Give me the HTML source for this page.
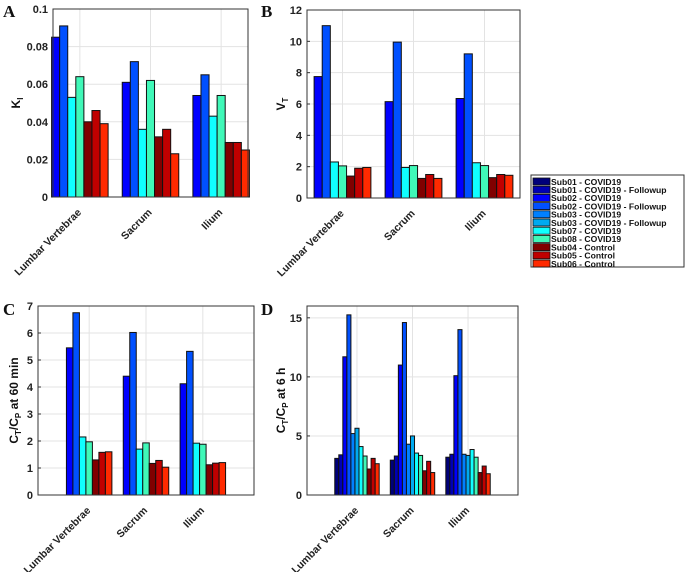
<!DOCTYPE html>
<html><head><meta charset="utf-8"><style>
body{margin:0;background:#fff;width:685px;height:572px;overflow:hidden}
svg{font-family:"Liberation Sans",Arial,sans-serif}
</style></head><body>
<svg id="fig" width="685" height="572" viewBox="0 0 685 572" xmlns="http://www.w3.org/2000/svg"></svg>
<script>
const categories = ["Lumbar Vertebrae","Sacrum","Ilium"];
const seriesNames = ["Sub01 - COVID19","Sub01 - COVID19 - Followup","Sub02 - COVID19","Sub02 - COVID19 - Followup","Sub03 - COVID19","Sub03 - COVID19 - Followup","Sub07 - COVID19","Sub08 - COVID19","Sub04 - Control","Sub05 - Control","Sub06 - Control"];
const seriesColors = ["#00007a","#0000b4","#0000ff","#0050ff","#0080ff","#00aaf0","#10ffff","#40f8b8","#800000","#c00000","#ff2a00"];
const subsetABC = [2,3,6,7,8,9,10];
const valuesA_LV = [0.085,0.091,0.053,0.064,0.040,0.046,0.039];
const valuesA_S = [0.061,0.072,0.036,0.062,0.032,0.036,0.023];
const valuesA_I = [0.054,0.065,0.043,0.054,0.029,0.029,0.025];
const valuesB_LV = [7.75,11.0,2.3,2.05,1.4,1.9,1.95];
const valuesB_S = [6.15,9.95,1.95,2.07,1.25,1.5,1.25];
const valuesB_I = [6.35,9.2,2.25,2.07,1.3,1.5,1.45];
const valuesC_LV = [5.45,6.75,2.15,1.97,1.3,1.58,1.6];
const valuesC_S = [4.4,6.02,1.7,1.93,1.17,1.28,1.03];
const valuesC_I = [4.12,5.32,1.92,1.88,1.12,1.18,1.2];
const valuesD_LV = [3.1,3.4,11.7,15.25,5.2,5.65,4.1,3.3,2.2,3.1,2.65];
const valuesD_S = [2.95,3.3,11.0,14.6,4.3,5.0,3.55,3.35,2.05,2.85,1.9];
const valuesD_I = [3.2,3.45,10.1,14.0,3.45,3.35,3.85,3.2,1.9,2.45,1.8];
const ticksA = [0,0.02,0.04,0.06,0.08,0.1];
const tickLabelsA = ["0","0.02","0.04","0.06","0.08","0.1"];
const ticksB = [0,2,4,6,8,10,12];
const ticksC = [0,1,2,3,4,5,6,7];
const ticksD = [0,5,10,15];

const NS="http://www.w3.org/2000/svg";
const svg=document.getElementById('fig');
function el(tag,attrs,parent){const e=document.createElementNS(NS,tag);for(const k in attrs)e.setAttribute(k,attrs[k]);(parent||svg).appendChild(e);return e;}

function panel(p){
  const g=el('g',{});
  
  
  const xs=v=>p.x0+(v-p.xlim[0])/(p.xlim[1]-p.xlim[0])*(p.x1-p.x0);
  const ys=v=>p.y1-(v-p.ylim[0])/(p.ylim[1]-p.ylim[0])*(p.y1-p.y0);
  categories.forEach((c,i)=>{const l=el('line',{x1:xs(i+1),x2:xs(i+1),y1:p.y0,y2:p.y1,stroke:'#e3e3e3','stroke-width':1},g);
    });
  p.ticks.forEach((t,i)=>{const y=ys(t);
    const l=el('line',{x1:p.x0,x2:p.x1,y1:y,y2:y,stroke:'#e3e3e3','stroke-width':1},g);
    
    const tl=el('text',{x:p.x0-5,y:y+4,'text-anchor':'end','font-size':11,'font-weight':'bold',fill:'#222'},g);
    tl.textContent=p.tickLabels?p.tickLabels[i]:String(t);
    
    const tk=el('line',{x1:p.x0,x2:p.x0+3,y1:y,y2:y,stroke:'#333'},g);
    
  });
  const step=xs(2)-xs(1);
  const gw=step*0.8;
  p.values.forEach((vals,ci)=>{
    const n=vals.length, bw=gw/n;
    vals.forEach((v,si)=>{
      const bx=xs(ci+1)-gw/2+si*bw;
      const r=el('rect',{x:bx,y:ys(v),width:bw,height:ys(0)-ys(v),fill:seriesColors[p.series[si]],stroke:'#111','stroke-width':1},g);
      
      
    });
    const tx=xs(ci+1)+2, ty=p.y1+16;
    const lab=el('text',{x:tx,y:ty,'text-anchor':'end','font-size':10.5,'font-weight':'bold',fill:'#222',transform:`rotate(-45 ${tx} ${ty})`},g);
    lab.textContent=categories[ci];
    
  });
  const box=el('rect',{x:p.x0,y:p.y0,width:p.x1-p.x0,height:p.y1-p.y0,fill:'none',stroke:'#333','stroke-width':1},g);
  
  const L=el('text',{x:p.lx,y:p.ly,'font-family':'Liberation Serif,serif','font-size':17,'font-weight':'bold',fill:'#111'},g);
  L.textContent=p.id;
  const yc=(p.y0+p.y1)/2;
  const yl=el('text',{x:p.ylx,y:yc,'text-anchor':'middle','font-size':12,'font-weight':'bold',fill:'#111',transform:`rotate(-90 ${p.ylx} ${yc})`},g);
  yl.innerHTML=p.ylabel;
  
}

panel({id:'A',x0:53,x1:248,y0:9,y1:197,xlim:[0.62,3.38],ylim:[0,0.1],ticks:ticksA,tickLabels:tickLabelsA,
  values:[valuesA_LV,valuesA_S,valuesA_I],series:subsetABC,lx:3,ly:17,ylx:20,ylabel:'K<tspan font-size="8" dy="3">I</tspan>'});
panel({id:'B',x0:307,x1:520,y0:10,y1:198,xlim:[0.5,3.5],ylim:[0,12],ticks:ticksB,
  values:[valuesB_LV,valuesB_S,valuesB_I],series:subsetABC,lx:261,ly:17,ylx:285,ylabel:'V<tspan font-size="8" dy="3">T</tspan>'});
panel({id:'C',x0:38,x1:254,y0:306,y1:495,xlim:[0.1,3.9],ylim:[0,7],ticks:ticksC,
  values:[valuesC_LV,valuesC_S,valuesC_I],series:subsetABC,lx:3,ly:315,ylx:18,ylabel:'C<tspan font-size="8" dy="3">T</tspan><tspan dy="-3">/C</tspan><tspan font-size="8" dy="3">P</tspan><tspan dy="-3"> at 60 min</tspan>'});
panel({id:'D',x0:307,x1:518,y0:306,y1:495,xlim:[0.1,3.9],ylim:[0,16],ticks:ticksD,
  values:[valuesD_LV,valuesD_S,valuesD_I],series:[0,1,2,3,4,5,6,7,8,9,10],lx:261,ly:315,ylx:285,ylabel:'C<tspan font-size="8" dy="3">T</tspan><tspan dy="-3">/C</tspan><tspan font-size="8" dy="3">P</tspan><tspan dy="-3"> at 6 h</tspan>'});

const lg=el('g',{});

el('rect',{x:531,y:175,width:153,height:92,fill:'#fff',stroke:'#333','stroke-width':1},lg);
seriesNames.forEach((n,i)=>{
  const y=178+i*8.2;
  const e=el('g',{},lg);
  
  el('rect',{x:533,y:y,width:17,height:7,fill:seriesColors[i],stroke:'#111','stroke-width':0.8},e);
  const t=el('text',{x:551,y:y+6.8,'font-size':8.6,'font-weight':'bold',fill:'#111'},e);
  t.textContent=n;
});
</script>
</body></html>
